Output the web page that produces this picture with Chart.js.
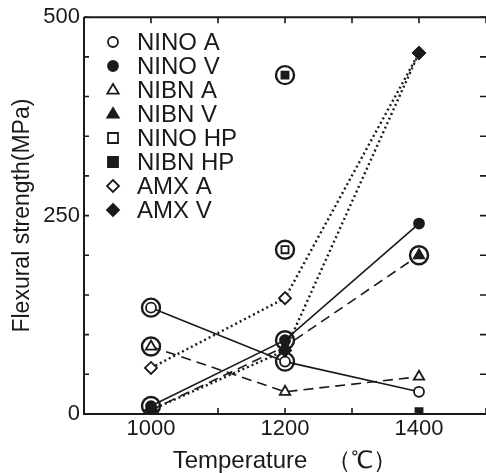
<!DOCTYPE html>
<html>
<head>
<meta charset="utf-8">
<script src="https://cdn.jsdelivr.net/npm/chart.js@4/dist/chart.umd.min.js"></script>
<style>
  html, body { margin: 0; padding: 0; background: #fff; overflow: hidden; }
  #wrap { width: 488px; height: 473px; }
</style>
</head>
<body>
<div id="wrap"><canvas id="chart" width="488" height="473"></canvas></div>
<script>
// flexural strength vs temperature
const temps = [1000, 1200, 1400];
const ninoA = [134, 66, 28];
const ninoV = [10, 93, 240];
const nibnA = [85, 28, 47];
const nibnV = [5, 85, 200];
const ninoHP = [null, 207, null];
const nibnHP = [null, 427, 3];
const amxA = [58, 146, 455];
const amxV = [5, 80, 455];
// points that are ringed in the original figure
const ringX = [1000, 1000, 1000, 1200, 1200, 1200, 1200, 1400];
const ringY = [134, 85, 10, 427, 207, 93, 66, 200];

const xTickLabels = [1000, 1200, 1400];
const yTickLabels = [0, 250, 500];

const FONT = "'Liberation Sans', Arial, sans-serif";
const INK = "#1a1a1a";

function pts(ys) {
  return temps.map((t, i) => ({ x: t, y: ys[i] })).filter(p => p.y !== null);
}

function series(label, ys, style, filled, dash, showLine) {
  return {
    label: label,
    data: pts(ys),
    showLine: showLine,
    borderColor: INK,
    borderWidth: dash && dash[0] < 4 ? 2.4 : 1.6,
    borderDash: dash || [],
    pointStyle: style,
    pointRadius: style === "circle" || style === "rect" ? 5 : 6,
    pointBorderWidth: 1.8,
    pointBorderColor: INK,
    pointBackgroundColor: filled ? INK : "#fff",
    order: filled ? 0 : 1,
    fill: false
  };
}

const datasets = [
  series("NINO A", ninoA, "circle", false, null, true),
  series("NINO V", ninoV, "circle", true, null, true),
  series("NIBN A", nibnA, "triangle", false, [10, 6], true),
  series("NIBN V", nibnV, "triangle", true, [10, 6], true),
  series("NINO HP", ninoHP, "rect", false, null, false),
  series("NIBN HP", nibnHP, "rect", true, null, false),
  series("AMX A", amxA, "rectRot", false, [2, 3], true),
  series("AMX V", amxV, "rectRot", true, [2, 3], true),
  {
    label: "ring",
    data: ringX.map((x, i) => ({ x: x, y: ringY[i] })),
    showLine: false,
    pointStyle: "circle",
    pointRadius: 9,
    pointBorderWidth: 2.4,
    pointBorderColor: INK,
    pointBackgroundColor: "rgba(0,0,0,0)",
    order: -1
  }
];

function drawMarker(ctx, style, r, x, y) {
  ctx.beginPath();
  if (style === "circle") {
    ctx.arc(x, y, r, 0, Math.PI * 2);
  } else if (style === "rect") {
    ctx.rect(x - r, y - r, 2 * r, 2 * r);
  } else if (style === "triangle") {
    ctx.moveTo(x, y - r);
    ctx.lineTo(x + r * 0.95, y + r * 0.6);
    ctx.lineTo(x - r * 0.95, y + r * 0.6);
    ctx.closePath();
  } else {
    ctx.moveTo(x, y - r);
    ctx.lineTo(x + r, y);
    ctx.lineTo(x, y + r);
    ctx.lineTo(x - r, y);
    ctx.closePath();
  }
  ctx.fill();
  ctx.stroke();
}

// legend inside the plot, plus frame and inward ticks
const framePlugin = {
  id: "frame",
  afterDraw(chart) {
    const ctx = chart.ctx;
    const a = chart.chartArea;
    const xs = chart.scales.x, ys = chart.scales.y;
    ctx.save();
    ctx.strokeStyle = INK;
    ctx.lineWidth = 2;
    ctx.beginPath();
    ctx.moveTo(a.left, a.top);
    ctx.lineTo(a.right, a.top);
    ctx.moveTo(a.left, a.top);
    ctx.lineTo(a.left, a.bottom);
    ctx.lineTo(a.right, a.bottom);
    ctx.stroke();

    ctx.lineWidth = 1.6;
    ctx.beginPath();
    xs.ticks.forEach(t => {
      const px = xs.getPixelForValue(t.value);
      ctx.moveTo(px, a.bottom); ctx.lineTo(px, a.bottom - 6);
      ctx.moveTo(px, a.top); ctx.lineTo(px, a.top + 6);
    });
    ys.ticks.forEach(t => {
      const py = ys.getPixelForValue(t.value);
      ctx.moveTo(a.left, py); ctx.lineTo(a.left + 5, py);
      ctx.moveTo(a.right, py); ctx.lineTo(a.right - 6, py);
    });
    ctx.stroke();

    // legend
    ctx.font = "24px " + FONT;
    ctx.textBaseline = "middle";
    ctx.textAlign = "left";
    for (let i = 0; i < 8; i++) {
      const ds = chart.data.datasets[i];
      const y = 42 + i * 24;
      ctx.fillStyle = ds.pointBackgroundColor;
      ctx.strokeStyle = INK;
      ctx.lineWidth = 1.8;
      drawMarker(ctx, ds.pointStyle, ds.pointStyle === "circle" || ds.pointStyle === "rect" ? 5 : 6, 113, y);
      ctx.fillStyle = INK;
      ctx.fillText(ds.label, 137, y + 1);
    }
    ctx.restore();
  }
};

new Chart(document.getElementById("chart"), {
  type: "scatter",
  data: { datasets: datasets },
  options: {
    responsive: false,
    animation: false,
    layout: { autoPadding: false, padding: { top: 17, right: 1, bottom: 0, left: 0 } },
    plugins: { legend: { display: false }, tooltip: { enabled: false } },
    scales: {
      x: {
        type: "linear",
        min: 900,
        max: 1500,
        grid: { display: false, drawTicks: false, tickLength: 0 },
        border: { display: false },
        ticks: {
          stepSize: 100,
          padding: 2,
          color: INK,
          font: { family: FONT, size: 22 },
          maxRotation: 0,
          autoSkip: false,
          callback: v => xTickLabels.includes(v) ? String(v) : ""
        },
        title: {
          display: true,
          text: "Temperature   （℃）",
          color: INK,
          font: { family: FONT, size: 24, lineHeight: 1 },
          padding: { top: 0, bottom: 0 }
        },
        afterFit: s => { s.height = 59; }
      },
      y: {
        type: "linear",
        min: 0,
        max: 500,
        grid: { display: false, drawTicks: false, tickLength: 0 },
        border: { display: false },
        ticks: {
          stepSize: 50,
          padding: 4,
          color: INK,
          font: { family: FONT, size: 22 },
          autoSkip: false,
          callback: v => yTickLabels.includes(v) ? String(v) : ""
        },
        title: {
          display: true,
          text: "Flexural strength(MPa)",
          color: INK,
          font: { family: FONT, size: 23, lineHeight: 1 },
          padding: { top: 11, bottom: 0 }
        },
        afterFit: s => { s.width = 84; }
      }
    }
  },
  plugins: [framePlugin]
});
</script>
</body>
</html>
